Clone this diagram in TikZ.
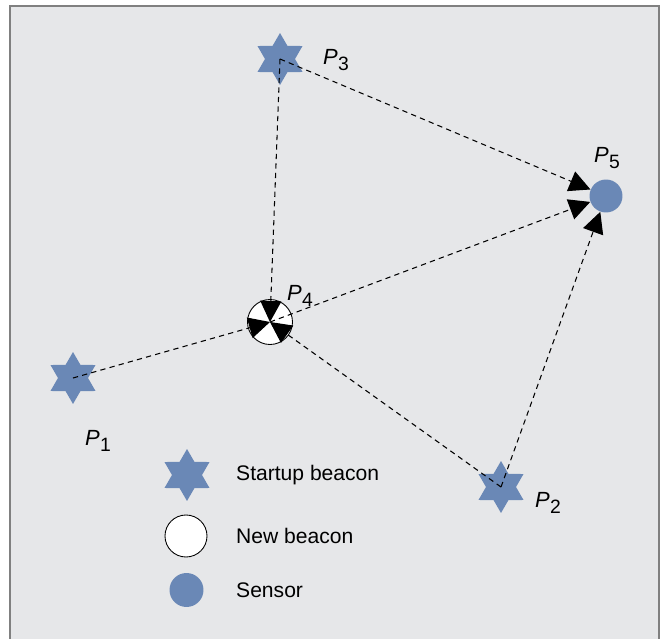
\documentclass[tikz,border=0pt]{standalone}
\usepackage{fontspec}
\setmainfont{Liberation Sans}
\usetikzlibrary{shapes.geometric,arrows.meta}
\definecolor{beaconblue}{HTML}{6A88B6}
\definecolor{panelgray}{HTML}{E6E7E9}
\definecolor{framegray}{HTML}{808080}
\newcommand{\pname}[1]{\textit{P}\kern0.3pt\raisebox{-0.45ex}{\fontsize{11}{13}\selectfont #1}}
\begin{document}
\begin{tikzpicture}[x=0.02cm,y=-0.02cm,
  startup/.style={star,star points=6,star point ratio=1.73,fill=beaconblue,inner sep=0pt,minimum size=1.04cm},
  newbeacon/.style={circle,draw=black,line width=0.5pt,fill=white,inner sep=0pt},
  sensor/.style={circle,fill=beaconblue,inner sep=0pt},
  link/.style={line width=0.6pt,dash pattern=on 3pt off 2.4pt,-{Triangle[length=12pt,width=12pt]}},
  plab/.style={font=\fontsize{12.5}{15}\selectfont},
  legend/.style={font=\fontsize{12}{14}\selectfont,anchor=west}]
  \useasboundingbox (0,0) rectangle (664,639);
  \clip (0,0) rectangle (664,639);
  \fill[white] (0,0) rectangle (664,639);
  \draw[framegray,fill=panelgray,line width=0.9pt] (10,6) rectangle (659,660);

  % beacons and sensor
  \node[startup] (p1) at (73,378) {};
  \node[startup] (p2) at (501,487) {};
  \node[startup] (p3) at (280,59) {};
  \node[newbeacon,minimum size=0.9cm] (p4) at (270,322) {};
  \node[sensor,minimum size=0.66cm] (p5) at (606,196) {};

  \draw[link] (p1.center) -- (p4.center);
  \draw[link] (p3.center) -- (p4.center);
  \draw[link] (p2.center) -- (p4.center);
  \draw[link] (p4.center) -- (p5);
  \draw[link] (p3.center) -- (p5);
  \draw[link] (p2.center) -- (p5);

  \node[plab] (l1) at (98,441) {\pname{1}};
  \node[plab] (l2) at (548,503) {\pname{2}};
  \node[plab] (l3) at (336,60) {\pname{3}};
  \node[plab] (l4) at (300,296) {\pname{4}};
  \node[plab] (l5) at (607,158) {\pname{5}};

  % legend
  \node[startup] (k1) at (187,475) {};
  \node[newbeacon,minimum size=0.84cm] (k2) at (186,536) {};
  \node[sensor,minimum size=0.68cm] (k3) at (186.5,590) {};
  \node[legend] (t1) at (230,475) {Startup beacon};
  \node[legend] (t2) at (230,536) {New beacon};
  \node[legend] (t3) at (230,590) {Sensor};
\end{tikzpicture}
\end{document}
